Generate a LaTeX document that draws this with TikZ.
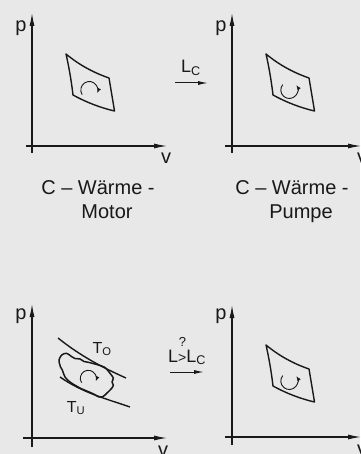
\documentclass[tikz,border=0pt]{standalone}
\usepackage{fontspec}
\setmainfont{Liberation Sans}
\usetikzlibrary{arrows.meta}

\begin{document}
\begin{tikzpicture}[x=1pt,y=-1pt,>=Latex,
    axis/.style={line width=1.1pt,draw=black!90,-{Latex[length=13pt,width=5pt]}},
    cyc/.style={line width=1.4pt,draw=black!90,line join=round},
    turn/.style={line width=0.9pt,draw=black!90,-{Latex[length=5pt,width=4pt]}},
    work/.style={line width=1pt,draw=black!90,-{Latex[length=10pt,width=4pt]}},
    lbl/.style={font=\fontsize{20}{24}\selectfont,inner sep=0pt,text=black!90},
    sym/.style={font=\fontsize{18}{20}\selectfont,inner sep=0pt,text=black!90,anchor=base}]
    \fill[black!9] (0,0) rectangle (360,454);
    \useasboundingbox (0,0) rectangle (360,454);

    % panel 1: Waerme-Motor
    \draw[axis] (32,153) -- (32,13);
    \draw[axis] (26,146) -- (167,146);
    \node[lbl] (p1) at (21,28) {p};
    \node[lbl] (v1) at (166,158) {v};
    \draw[cyc] (66,54) .. controls (78.8,64.6) and (93.2,72.6) .. (109,78) -- (114.5,111)
        .. controls (100,107.6) and (86.1,102.2) .. (73,95) .. controls (71.5,82) and (69,67) .. cycle;
    \draw[turn] (89.3,90) ++(147:8.5) arc[start angle=147,end angle=382,radius=8.5];
    \node[lbl] (cm1) at (98,188) {C – Wärme -};
    \node[lbl] (cm2) at (107,212) {Motor};

    % work arrow, top
    \node[sym] (lc) at (191,73) {L\textsubscript{C}};
    \coordinate (w1a) at (175,83);
    \coordinate (w1b) at (208,83);
    \draw[work] (w1a) -- (w1b);

    % panel 2: Waerme-Pumpe
    \begin{scope}[shift={(200,0)}]
    \draw[axis] (32,153) -- (32,13);
    \draw[axis] (25,146) -- (161,146);
    \node[lbl] (p2) at (21,28) {p};
    \node[lbl] (v2) at (162,158) {v};
    \draw[cyc] (66,54) .. controls (78.8,64.6) and (93.2,72.6) .. (109,78) -- (114.5,111)
        .. controls (100,107.6) and (86.1,102.2) .. (73,95) .. controls (71.5,82) and (69,67) .. cycle;
    \draw[turn] (89.3,90) ++(220:8.5) arc[start angle=220,end angle=-35,radius=8.5];
    \node[lbl] (cp1) at (92,188) {C – Wärme -};
    \node[lbl] (cp2) at (101,214) {Pumpe};
    \end{scope}

    % panel 3: real cycle between T_O and T_U
    \draw[axis] (32,447) -- (32,304);
    \draw[axis] (23,438) -- (167,438);
    \node[lbl] (p3) at (21,316) {p};
    \node[lbl] (v3) at (163,451) {v};
    \draw[cyc] (58,338) .. controls (81,356.4) and (103,367.7) .. (126,378);
    \draw[cyc] (60,377) .. controls (83,393) and (107,399) .. (130,407);
    \node[sym,font=\fontsize{16}{18}\selectfont] (to) at (102,353) {T\textsubscript{O}};
    \node[sym,font=\fontsize{16}{18}\selectfont] (tu) at (76,412) {T\textsubscript{U}};
    \draw[cyc,line width=1.5pt] plot[smooth cycle,tension=0.55] coordinates {
        (59,360) (61.7,355) (66.7,353.3) (71.7,356.7) (75,358.5) (80,359) (84,361.5)
        (88.3,362.3) (93,363.5) (98.3,365) (105,367.5) (110,373.3) (113.3,378) (112,382)
        (113.3,385) (111.7,388.3) (106.7,393.3) (103,396.5) (98.5,396.8) (94,394.2)
        (88,391.5) (82,389) (76.7,386.2) (70,382) (65,377) (62.3,370) (60.5,367) (59.7,364.3)};
    \draw[turn] (88.3,378.3) ++(147:8) arc[start angle=147,end angle=382,radius=8];

    % work arrow, bottom
    \node[sym] (lq) at (187,362) {L{\fontsize{14}{15}\selectfont>}L\textsubscript{C}};
    \node[sym,font=\fontsize{13}{14}\selectfont] (qm) at (182.5,346) {?};
    \coordinate (w2a) at (170,372);
    \coordinate (w2b) at (204,372);
    \draw[work] (w2a) -- (w2b);

    % panel 4: Carnot pump again
    \begin{scope}[shift={(200,291)}]
    \draw[axis] (32,154) -- (32,14);
    \draw[axis] (25,146) -- (161,146);
    \node[lbl] (p4) at (21,25) {p};
    \node[lbl] (v4) at (162,159) {v};
    \draw[cyc] (66,54) .. controls (78.8,64.6) and (93.2,72.6) .. (109,78) -- (114.5,111)
        .. controls (100,107.6) and (86.1,102.2) .. (73,95) .. controls (71.5,82) and (69,67) .. cycle;
    \draw[turn] (89.3,90) ++(220:8.5) arc[start angle=220,end angle=-35,radius=8.5];
    \end{scope}
\end{tikzpicture}
\end{document}
